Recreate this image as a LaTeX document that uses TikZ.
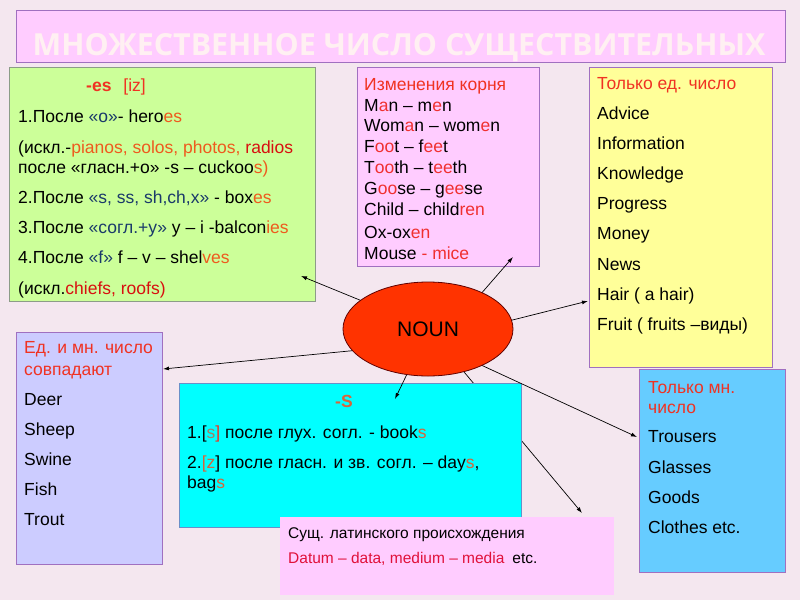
\documentclass[tikz,border=0pt]{standalone}
\usepackage{fontspec}
\setmainfont{Liberation Sans}
\newfontfamily\titlefont{Open Sans}
\newfontfamily\boldsans{Liberation Sans Bold}
\usetikzlibrary{arrows.meta,shapes.geometric}
\definecolor{bg}{HTML}{F4E7EF}
\definecolor{titlefill}{HTML}{FFCCFF}
\definecolor{titletext}{HTML}{FFF0F2}
\definecolor{purpleline}{HTML}{A070C0}
\definecolor{greenfill}{HTML}{CCFF99}
\definecolor{greenline}{HTML}{8C9C88}
\definecolor{pinkfill}{HTML}{FFCCFF}
\definecolor{yellowfill}{HTML}{FFFF99}
\definecolor{lavfill}{HTML}{CCCCFF}
\definecolor{cyanfill}{HTML}{00FFFF}
\definecolor{cyanline}{HTML}{6A8FC8}
\definecolor{bluefill}{HTML}{66CCFF}
\definecolor{nounfill}{HTML}{FF3300}
\definecolor{nounline}{HTML}{600000}
\definecolor{hred}{HTML}{F03222}
\definecolor{ora}{HTML}{EE5A1E}
\definecolor{dred}{HTML}{D81010}
\definecolor{dblue}{HTML}{1A3A6A}
\definecolor{pred}{HTML}{F03030}
\definecolor{sora}{HTML}{D8643A}
\definecolor{sgray}{HTML}{A08068}
\definecolor{crim}{HTML}{E0103A}
\begin{document}
\begin{tikzpicture}[x=1pt,y=-1pt,
  panel/.style={anchor=north west,inner sep=0pt,line width=0.8pt},
  txt/.style={anchor=base west,inner sep=0pt,font=\fontsize{17.5}{21}\selectfont},
  smalltxt/.style={anchor=base west,inner sep=0pt,font=\fontsize{15.5}{19}\selectfont},
  conn/.style={draw=black,line width=0.7pt,-{Latex[length=6pt,width=4pt]}}]
\useasboundingbox (0,0) rectangle (800,600);
\fill[bg] (0,0) rectangle (800,600);
% title
\node[panel,fill=titlefill,draw=purpleline,minimum width=769pt,minimum height=52pt] (title) at (16,10) {};
\node[anchor=base,inner sep=0pt,text=titletext,font=\titlefont\bfseries\fontsize{30.4}{30.4}\selectfont] (titletxt) at (399,55) {МНОЖЕСТВЕННОЕ ЧИСЛО СУЩЕСТВИТЕЛЬНЫХ};
% panels
\node[panel,fill=greenfill,draw=greenline,minimum width=306pt,minimum height=234pt] (green) at (9,67) {};
\node[panel,fill=pinkfill,draw=purpleline,minimum width=182pt,minimum height=199pt] (pink) at (357,67) {};
\node[panel,fill=yellowfill,draw=purpleline,minimum width=183pt,minimum height=300pt] (yellow) at (589,67) {};
\node[panel,fill=lavfill,draw=purpleline,minimum width=146pt,minimum height=232pt] (lav) at (16,332) {};
\node[panel,fill=bluefill,draw=purpleline,minimum width=146pt,minimum height=203pt] (blue) at (639,369) {};
% noun ellipse (drawn later), coordinates for arrows
\node[ellipse,minimum width=170pt,minimum height=94pt,inner sep=0pt] (nounpos) at (428,329) {};
\coordinate (egreen) at (301,276);
\coordinate (epink) at (513,257);
\coordinate (eyellow) at (588,301);
\coordinate (elav) at (163,369);
\coordinate (ecyan) at (395,399);
\coordinate (elatin) at (582,513);
\coordinate (eblue) at (637,437);
\draw[conn] (nounpos.310.7) -- (elatin);
% cyan and latin panels
\node[panel,fill=cyanfill,draw=cyanline,minimum width=342pt,minimum height=144pt] (cyan) at (179,383) {};
\node[panel,fill=pinkfill,minimum width=334pt,minimum height=78pt] (latin) at (280,517) {};
% other arrows
\draw[conn] (nounpos.157.8) -- (egreen);
\draw[conn] (nounpos.34) -- (epink);
\draw[conn] (nounpos.6.7) -- (eyellow);
\draw[conn] (nounpos.196.5) -- (elav);
\draw[conn] (nounpos.245.5) -- (ecyan);
\draw[conn] (nounpos.326.8) -- (eblue);
\node[ellipse,fill=nounfill,draw=nounline,line width=0.8pt,minimum width=170pt,minimum height=94pt,inner sep=0pt,font=\fontsize{21}{21}\selectfont] (noun) at (428,329) {NOUN};
% green text
\node[txt] (g0) at (86,91) {\textcolor{hred}{\boldsans -es}\hspace{12pt}\textcolor{hred}{[iz]}};
\node[txt] (g1) at (18,122) {1.После \textcolor{dblue}{«о»}- hero\textcolor{ora}{es}};
\node[txt] (g2) at (18,153) {(искл.-\textcolor{ora}{pianos, solos, photos,} \textcolor{dred}{radios}};
\node[txt] (g3) at (18,173) {после «гласн.+о» -s – cuckoo\textcolor{ora}{s)}};
\node[txt] (g4) at (18,203) {2.После \textcolor{dblue}{«s, ss, sh,ch,x»} - box\textcolor{ora}{es}};
\node[txt] (g5) at (18,233) {3.После \textcolor{dblue}{«согл.+у»} у – i -balcon\textcolor{ora}{ies}};
\node[txt] (g6) at (18,263) {4.После \textcolor{dblue}{«f»} f – v – shel\textcolor{ora}{ves}};
\node[txt] (g7) at (18,294) {(искл.\textcolor{dred}{chiefs, roofs)}};
% pink text
\node[txt] (p0) at (364,90) {\textcolor{hred}{Изменения корня}};
\node[txt] (p1) at (364,111) {M\textcolor{pred}{a}n – m\textcolor{pred}{e}n};
\node[txt] (p2) at (364,131) {Wom\textcolor{pred}{a}n – wom\textcolor{pred}{e}n};
\node[txt] (p3) at (364,152) {F\textcolor{pred}{oo}t – f\textcolor{pred}{ee}t};
\node[txt] (p4) at (364,173) {T\textcolor{pred}{oo}th – t\textcolor{pred}{ee}th};
\node[txt] (p5) at (364,194) {G\textcolor{pred}{oo}se – g\textcolor{pred}{ee}se};
\node[txt] (p6) at (364,215) {Child – child\textcolor{pred}{ren}};
\node[txt] (p7) at (364,238) {Ox-ox\textcolor{pred}{en}};
\node[txt] (p8) at (364,259) {Mouse \textcolor{pred}{- mice}};
% yellow text
\node[txt] (y0) at (597,89) {\textcolor{hred}{Только ед. число}};
\node[txt] (y1) at (597,119) {Advice};
\node[txt] (y2) at (597,149) {Information};
\node[txt] (y3) at (597,179) {Knowledge};
\node[txt] (y4) at (597,209) {Progress};
\node[txt] (y5) at (597,239) {Money};
\node[txt] (y6) at (597,270) {News};
\node[txt] (y7) at (597,300) {Hair ( a hair)};
\node[txt] (y8) at (597,330) {Fruit ( fruits –виды)};
% lavender text
\node[txt] (l0) at (24,353) {\textcolor{hred}{Ед. и мн. число}};
\node[txt] (l1) at (24,375) {\textcolor{hred}{совпадают}};
\node[txt] (l2) at (24,405) {Deer};
\node[txt] (l3) at (24,435) {Sheep};
\node[txt] (l4) at (24,465) {Swine};
\node[txt] (l5) at (24,495) {Fish};
\node[txt] (l6) at (24,525) {Trout};
% cyan text
\node[txt] (c0) at (335,407) {\textcolor{sora}{\boldsans -S}};
\node[txt] (c1) at (187,438) {1.[\textcolor{sgray}{s}\textcolor{hred}{]} после глух. согл. - book\textcolor{sora}{s}};
\node[txt] (c2) at (187,468) {2.\textcolor{sora}{[z}] после гласн. и зв. согл. – day\textcolor{sora}{s},};
\node[txt] (c3) at (187,488) {bag\textcolor{sora}{s}};
% latin text
\node[smalltxt] (u0) at (288,538) {Сущ. латинского происхождения};
\node[smalltxt] (u1) at (288,563) {\textcolor{crim}{Datum – data, medium – media}\hspace{8pt}etc.};
% blue text
\node[txt] (b0) at (648,393) {\textcolor{hred}{Только мн.}};
\node[txt] (b1) at (648,413) {\textcolor{hred}{число}};
\node[txt] (b2) at (648,442) {Trousers};
\node[txt] (b3) at (648,473) {Glasses};
\node[txt] (b4) at (648,503) {Goods};
\node[txt] (b5) at (648,533) {Clothes etc.};
\end{tikzpicture}
\end{document}
